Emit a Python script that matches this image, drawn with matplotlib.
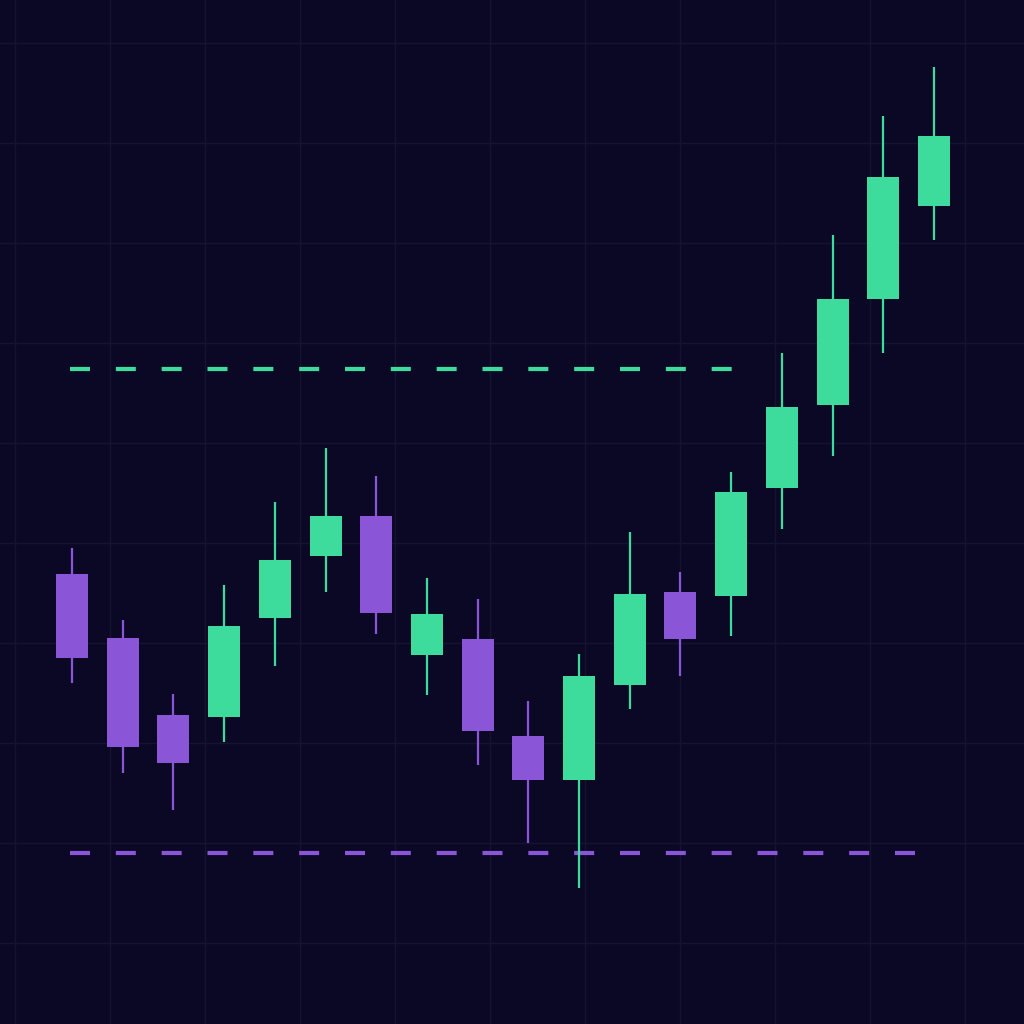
import matplotlib
matplotlib.use("Agg")
import matplotlib.pyplot as plt
import numpy as np

opens  = [45.0, 38.6, 30.9, 30.7, 40.6, 46.8, 50.8, 36.9, 38.5, 28.8, 24.4, 33.9, 43.2, 42.8, 53.6, 61.9, 72.5, 81.8]
closes = [36.6, 27.7, 26.1, 39.8, 46.4, 50.8, 41.1, 41.0, 29.3, 24.4, 34.8, 43.0, 38.5, 53.2, 61.7, 72.5, 84.7, 88.8]
highs  = [47.6, 40.4, 33.0, 43.9, 52.2, 57.6, 54.8, 44.6, 42.5, 32.3, 37.0, 49.2, 45.2, 55.2, 67.1, 78.9, 90.8, 95.7]
lows   = [34.1, 25.1, 21.4, 28.2, 35.8, 43.2, 39.0, 32.9, 25.9, 18.1, 13.6, 31.5, 34.8, 38.8, 49.5, 56.8, 67.1, 78.4]
resistance = 65.5
support = 17.1

bg = "#0b0826"; green = "#3ddc9c"; purple = "#8a55d6"
fig = plt.figure(figsize=(10.24, 10.24), dpi=100, facecolor=bg)
ax = fig.add_axes([0, 0, 1, 1], facecolor=bg)
step = (934-72)/17
ax.set_xlim(-72/step, (1024-72)/step)
ax.set_ylim(0, 102.4)
for yp in range(43, 1024, 100):
    ax.axhline((1024-yp)/10, color="#16132f", lw=1, zorder=0)
for xp in range(15, 1024, 95):
    ax.axvline((xp-72)/step, color="#16132f", lw=1, zorder=0)

for i, (o, c, h, l) in enumerate(zip(opens, closes, highs, lows)):
    col = green if c >= o else purple
    ax.vlines(i, l, h, color=col, lw=1.6, zorder=2)
    ax.bar(i, abs(c-o), bottom=min(o, c), width=0.63, color=col, zorder=3)

ax.hlines(resistance, (70-72)/step, (738-72)/step, color=green, lw=3, linestyles=(0, (4.8, 6.2)), zorder=1)
ax.hlines(support, (70-72)/step, (925-72)/step, color=purple, lw=3, linestyles=(0, (4.8, 6.2)), zorder=1)
ax.axis("off")
fig.savefig("out.png", dpi=100, facecolor=bg)
